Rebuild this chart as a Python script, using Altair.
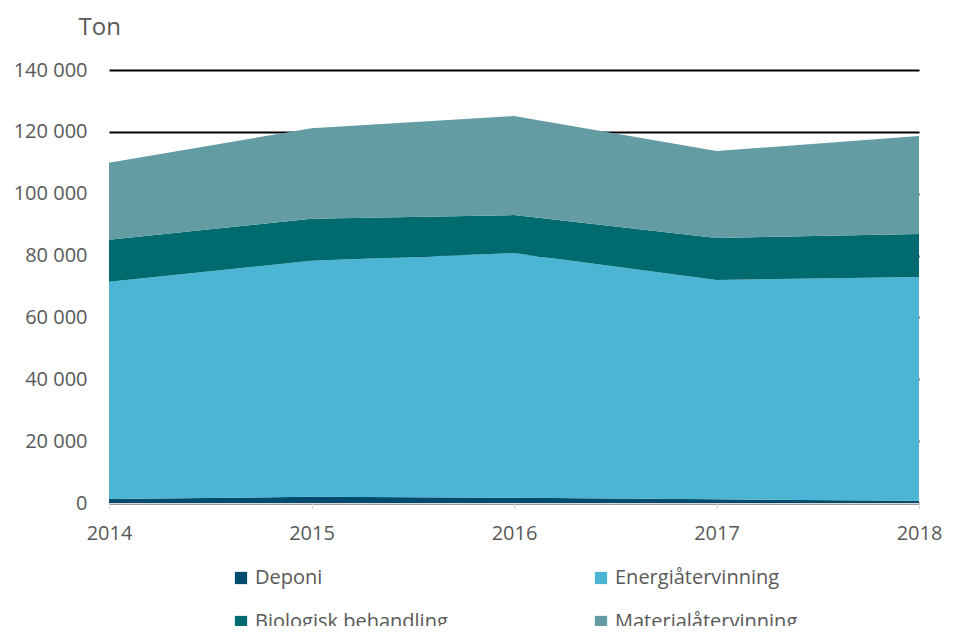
import altair as alt
import pandas as pd

years = [2014, 2015, 2016, 2017, 2018]
categories = ["Deponi", "Energiåtervinning", "Biologisk behandling", "Materialåtervinning"]
colors = ["#004B6E", "#4BB5D3", "#006B6E", "#639DA3"]
deponi = [1300, 2000, 1700, 1200, 700]
energi = [70200, 76300, 79100, 70900, 72400]
biologisk = [13600, 13600, 12300, 13600, 13900]
material = [24900, 29300, 32000, 28100, 31700]

series = [deponi, energi, biologisk, material]
rows = []
for ci, (cat, vals) in enumerate(zip(categories, series)):
    for y, v in zip(years, vals):
        rows.append({"År": y, "Kategori": cat, "Ton": v, "ord": ci})
df = pd.DataFrame(rows)

# legend is filled column by column: reorder so rows read Deponi, Energi / Biologisk, Material
legend_order = [categories[0], categories[2], categories[1], categories[3]]
legend_colors = [colors[0], colors[2], colors[1], colors[3]]

font = "Open Sans"
gray = "#595959"

chart = alt.Chart(df).mark_area(opacity=1).encode(
    x=alt.X("År:Q", scale=alt.Scale(domain=[2014, 2018], nice=False, zero=False),
            axis=alt.Axis(values=years, format="d", title=None, grid=False,
                          domainColor="#D9D9D9", domainWidth=1.5, tickColor="#D9D9D9",
                          tickSize=6, labelPadding=14, labelFontSize=20, labelColor=gray,
                          labelFont=font, labelFlush=False)),
    y=alt.Y("sum(Ton):Q", stack="zero", scale=alt.Scale(domain=[0, 140000], nice=False),
            axis=alt.Axis(values=[0, 20000, 40000, 60000, 80000, 100000, 120000, 140000],
                          labelExpr="replace(format(datum.value, ',d'), ',', ' ')",
                          title="Ton", titleAngle=0, titleAlign="left", titleBaseline="middle",
                          titleX=-31, titleY=-43, titleFontSize=24, titleFontWeight="normal",
                          titleColor=gray, titleFont=font,
                          domain=False, ticks=False, labelPadding=22, labelFontSize=20,
                          labelColor=gray, labelFont=font,
                          grid=True, gridColor="#000000", gridWidth=2)),
    color=alt.Color("Kategori:N", scale=alt.Scale(domain=legend_order, range=legend_colors),
                    legend=alt.Legend(title=None, orient="none", legendX=122, legendY=498,
                                      columns=2, columnPadding=143, rowPadding=24,
                                      symbolType="square", symbolSize=150, symbolStrokeWidth=0,
                                      labelFontSize=20, labelColor=gray, labelFont=font,
                                      labelLimit=400)),
    order=alt.Order("ord:Q", sort="ascending"),
).properties(
    width=810, height=433,
    autosize=alt.AutoSizeParams(type="none"),
    padding={"left": 101, "top": 62, "right": 27, "bottom": 123},
).configure_view(stroke=None)

chart.save("out.html", embed_options={"renderer": "svg", "actions": False})
